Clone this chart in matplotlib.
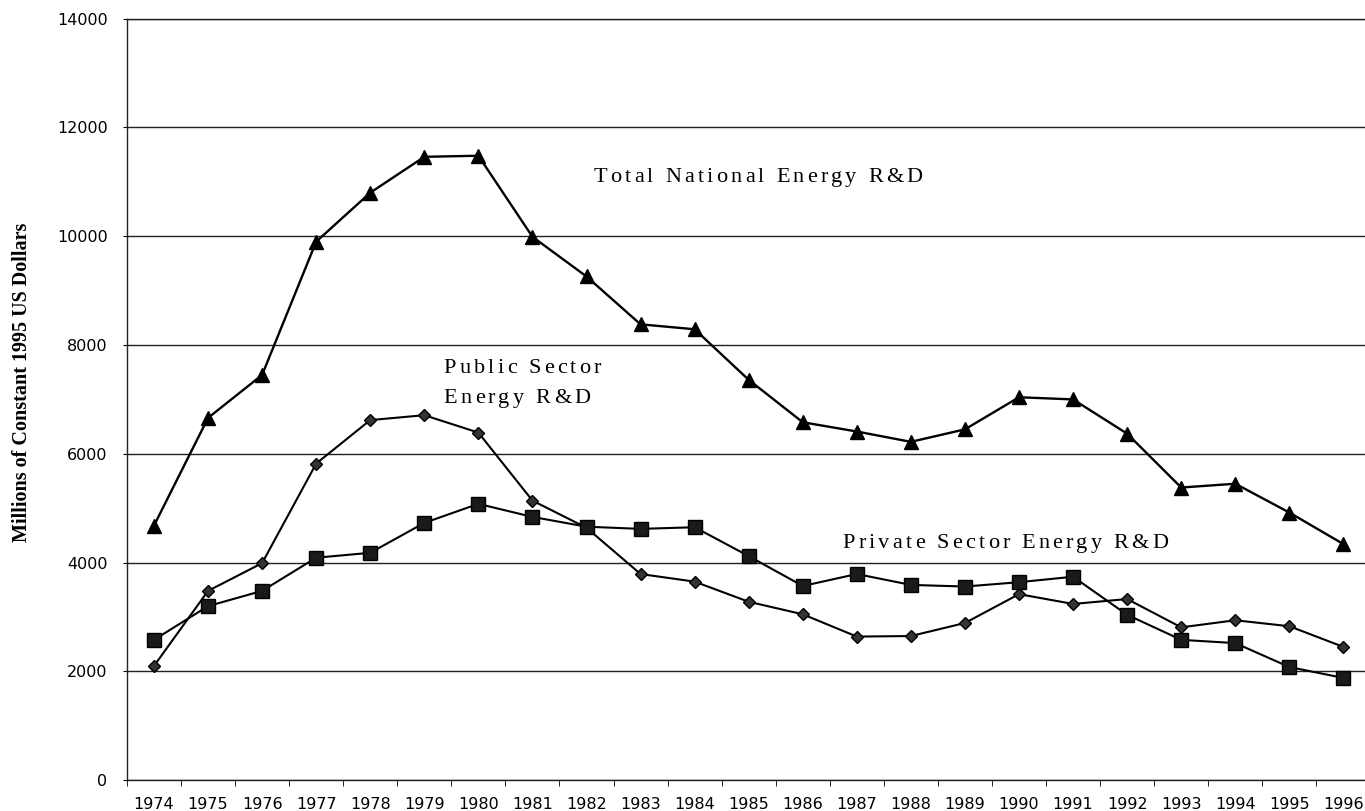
import matplotlib
matplotlib.use("Agg")
import matplotlib.pyplot as plt
from matplotlib.ticker import FixedLocator
from matplotlib.font_manager import FontProperties
from matplotlib.textpath import TextToPath
from matplotlib.transforms import offset_copy

# Values (millions of constant 1995 US dollars)
years = list(range(1974, 1997))
total_rd = [4680, 6660, 7450, 9900, 10800, 11460, 11480, 9990, 9260, 8380, 8290,
            7360, 6580, 6410, 6220, 6450, 7040, 7000, 6370, 5380, 5450, 4920, 4340]
public_rd = [2100, 3480, 3990, 5820, 6620, 6710, 6390, 5140, 4640, 3790, 3650,
             3280, 3050, 2640, 2650, 2890, 3420, 3240, 3330, 2810, 2940, 2830, 2450]
private_rd = [2580, 3200, 3480, 4090, 4180, 4730, 5080, 4840, 4660, 4620, 4650,
              4120, 3570, 3790, 3590, 3560, 3640, 3740, 3040, 2580, 2520, 2080, 1880]

fig = plt.figure(figsize=(13.65, 8.11), dpi=100)
ax = fig.add_axes([0.093, 0.038, 0.911, 0.939])

x = list(range(len(years)))
ax.plot(x, total_rd, color='black', lw=1.7, marker='^', ms=10.5, zorder=3)
ax.plot(x, public_rd, color='black', lw=1.5, marker='D', ms=6,
        markerfacecolor='#333333', markeredgecolor='black', zorder=3)
ax.plot(x, private_rd, color='black', lw=1.5, marker='s', ms=9.5,
        markerfacecolor='#1a1a1a', markeredgecolor='black', zorder=3)

ax.set_xlim(-0.5, len(years) - 0.5)
ax.set_ylim(0, 14000)
ax.set_yticks(range(0, 14001, 2000))
ax.set_xticks(x)
ax.set_xticklabels([str(y) for y in years])
ax.xaxis.set_minor_locator(FixedLocator([i - 0.5 for i in range(len(years) + 1)]))

ax.grid(axis='y', color='#222222', lw=1.0)
ax.set_axisbelow(True)
ax.spines['right'].set_visible(False)
for s in ['left', 'bottom', 'top']:
    ax.spines[s].set_linewidth(1.0)
    ax.spines[s].set_color('#222222')

ax.tick_params(axis='x', which='major', length=0, pad=12, labelsize=11.5)
ax.tick_params(axis='x', which='minor', length=4, direction='out')
ax.tick_params(axis='y', length=3, pad=11, labelsize=11.5)

# letter-spaced serif labels, like the original
prop = FontProperties(family='Liberation Serif', size=16)
ttp = TextToPath()


def char_width(ch):
    w2 = ttp.get_text_width_height_descent('||', prop, ismath=False)[0]
    w3 = ttp.get_text_width_height_descent('|' + ch + '|', prop, ismath=False)[0]
    return w3 - w2


def tracked_text(xd, yd, s, track=2.3):
    off = 0.0
    for ch in s:
        if ch != ' ':
            tr = offset_copy(ax.transData, fig=fig, x=off, y=0, units='points')
            ax.text(xd, yd, ch, transform=tr, fontproperties=prop,
                    va='baseline', ha='left')
        off += char_width(ch) + track


tracked_text(8.13, 11000, 'Total National Energy R&D')
tracked_text(5.36, 7490, 'Public Sector')
tracked_text(5.36, 6940, 'Energy R&D')
tracked_text(12.74, 4270, 'Private Sector Energy R&D')

fig.text(22 / 1365, 1 - 382 / 811, 'Millions of Constant 1995 US Dollars',
         rotation=90, ha='center', va='center', family='Liberation Serif',
         fontweight='bold', fontsize=14.5)

fig.savefig('out.png', dpi=100)
